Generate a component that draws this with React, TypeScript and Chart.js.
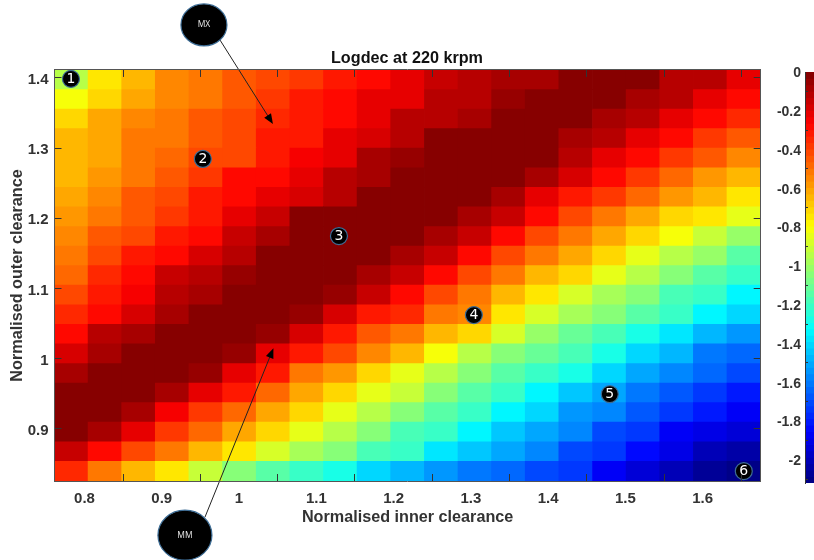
import React, { useEffect, useRef } from "react";
import { Chart, registerables } from "chart.js";

Chart.register(...registerables);

const TITLE = "Logdec at 220 krpm";
const X_LABEL = "Normalised inner clearance";
const Y_LABEL = "Normalised outer clearance";
const xTicks = [0.8, 0.9, 1, 1.1, 1.2, 1.3, 1.4, 1.5, 1.6];
const yTicks = [0.9, 1, 1.1, 1.2, 1.3, 1.4];
const cbTicks = [0, -0.2, -0.4, -0.6, -0.8, -1, -1.2, -1.4, -1.6, -1.8, -2];
const X_MIN = 0.7612;
const X_MAX = 1.6751;
const Y_MIN = 0.8254;
const Y_MAX = 1.4114;
const C_MIN = -2.12;
const C_MAX = 0;
const xCenters = [0.7830, 0.8265, 0.8700, 0.9135, 0.9570, 1.0006, 1.0441, 1.0876, 1.1311, 1.1746, 1.2181, 1.2617, 1.3052, 1.3487, 1.3922, 1.4357, 1.4793, 1.5228, 1.5663, 1.6098, 1.6533];
const yCenters = [1.3974, 1.3695, 1.3416, 1.3137, 1.2858, 1.2579, 1.2300, 1.2021, 1.1742, 1.1463, 1.1184, 1.0905, 1.0626, 1.0347, 1.0068, 0.9789, 0.9510, 0.9231, 0.8952, 0.8673, 0.8394];

const row01 = [-0.93, -0.74, -0.66, -0.56, -0.51, -0.46, -0.43, -0.38, -0.31, -0.27, -0.2, -0.16, -0.12, -0.07, -0.07, 0, 0, -0.03, -0.1, -0.13, -0.2];
const row02 = [-0.8, -0.7, -0.6, -0.55, -0.5, -0.45, -0.37, -0.32, -0.29, -0.2, -0.2, -0.11, -0.11, -0.04, 0, 0, -0.03, -0.07, -0.13, -0.2, -0.27];
const row03 = [-0.72, -0.62, -0.56, -0.52, -0.46, -0.43, -0.36, -0.3, -0.27, -0.22, -0.12, -0.13, -0.07, 0, 0, 0, -0.07, -0.13, -0.2, -0.27, -0.34];
const row04 = [-0.66, -0.6, -0.53, -0.5, -0.44, -0.41, -0.33, -0.3, -0.22, -0.19, -0.13, -0.03, 0, 0, 0, -0.07, -0.13, -0.2, -0.27, -0.37, -0.45];
const row05 = [-0.66, -0.6, -0.53, -0.47, -0.43, -0.4, -0.32, -0.24, -0.2, -0.09, -0.065, -0.03, 0, 0, -0.03, -0.12, -0.2, -0.27, -0.37, -0.45, -0.55];
const row06 = [-0.65, -0.57, -0.5, -0.44, -0.38, -0.29, -0.27, -0.2, -0.13, -0.07, 0, 0, 0, -0.03, -0.09, -0.18, -0.27, -0.37, -0.48, -0.58, -0.63];
const row07 = [-0.62, -0.55, -0.46, -0.4, -0.33, -0.27, -0.2, -0.18, -0.11, -0.03, 0, 0, 0, -0.09, -0.2, -0.3, -0.37, -0.47, -0.57, -0.66, -0.76];
const row08 = [-0.58, -0.51, -0.44, -0.37, -0.31, -0.22, -0.15, -0.03, -0.03, 0, 0, 0, -0.07, -0.16, -0.27, -0.4, -0.51, -0.61, -0.7, -0.76, -0.86];
const row09 = [-0.55, -0.46, -0.4, -0.33, -0.27, -0.14, -0.09, 0, 0, 0, 0, -0.07, -0.16, -0.27, -0.41, -0.51, -0.6, -0.7, -0.8, -0.9, -1];
const row10 = [-0.5, -0.42, -0.33, -0.27, -0.18, -0.11, -0.02, 0, 0, 0, -0.09, -0.16, -0.27, -0.41, -0.5, -0.6, -0.72, -0.84, -0.93, -1, -1.13];
const row11 = [-0.48, -0.36, -0.29, -0.16, -0.11, -0.04, 0, 0, 0, -0.07, -0.16, -0.27, -0.4, -0.52, -0.63, -0.72, -0.84, -0.93, -1.03, -1.13, -1.22];
const row12 = [-0.42, -0.33, -0.24, -0.13, -0.07, 0, 0, 0, -0.04, -0.15, -0.27, -0.41, -0.53, -0.63, -0.76, -0.87, -0.97, -1.06, -1.16, -1.22, -1.33];
const row13 = [-0.36, -0.27, -0.17, -0.07, 0, 0, 0, -0.04, -0.17, -0.3, -0.35, -0.53, -0.54, -0.73, -0.87, -0.97, -1.06, -1.13, -1.22, -1.33, -1.42];
const row14 = [-0.27, -0.13, -0.07, 0, 0, 0, -0.04, -0.19, -0.3, -0.44, -0.53, -0.64, -0.72, -0.87, -1, -1.1, -1.19, -1.28, -1.36, -1.48, -1.55];
const row15 = [-0.18, -0.07, 0, 0, 0, -0.04, -0.2, -0.32, -0.43, -0.56, -0.66, -0.8, -0.93, -1.03, -1.1, -1.19, -1.28, -1.4, -1.47, -1.62, -1.65];
const row16 = [-0.07, 0, 0, 0, -0.04, -0.2, -0.33, -0.5, -0.58, -0.7, -0.84, -0.93, -1.03, -1.13, -1.22, -1.28, -1.4, -1.52, -1.59, -1.65, -1.72];
const row17 = [0, 0, 0, -0.07, -0.2, -0.33, -0.47, -0.6, -0.7, -0.84, -0.92, -1.03, -1.13, -1.22, -1.33, -1.45, -1.52, -1.62, -1.66, -1.75, -1.82];
const row18 = [0, 0, -0.09, -0.24, -0.37, -0.49, -0.6, -0.72, -0.84, -0.93, -1.03, -1.13, -1.22, -1.33, -1.42, -1.53, -1.59, -1.66, -1.75, -1.82, -1.88];
const row19 = [0, -0.09, -0.22, -0.37, -0.48, -0.6, -0.72, -0.84, -0.93, -1.06, -1.19, -1.22, -1.33, -1.45, -1.52, -1.59, -1.69, -1.75, -1.86, -1.9, -1.93];
const row20 = [-0.15, -0.27, -0.43, -0.53, -0.65, -0.76, -0.88, -0.98, -1.06, -1.19, -1.22, -1.36, -1.44, -1.52, -1.59, -1.69, -1.75, -1.84, -1.9, -2, -2.03];
const row21 = [-0.35, -0.5, -0.63, -0.74, -0.9, -1.03, -1.13, -1.22, -1.28, -1.4, -1.48, -1.55, -1.62, -1.65, -1.72, -1.75, -1.86, -1.94, -2, -2.08, -2.1];
const rows = [row01, row02, row03, row04, row05, row06, row07, row08, row09, row10, row11, row12, row13, row14, row15, row16, row17, row18, row19, row20, row21];

const markerLabels = ["1", "2", "3", "4", "5", "6"];
const markerX = [0.7825, 0.9532, 1.1293, 1.3039, 1.4798, 1.6532];
const markerY = [1.3986, 1.2845, 1.1746, 1.0619, 0.9492, 0.8394];

const calloutLabels = ["MX", "MM"];
const calloutX = [0.9546, 0.93];
const calloutY = [1.4756, 0.7481];
const arrowFromX = [0.9753, 0.9559];
const arrowFromY = [1.4542, 0.7738];
const arrowToX = [1.0439, 1.0445];
const arrowToY = [1.3344, 1.0148];

const FONT = '"Liberation Sans", Arial, sans-serif';
const TEXT = "#333333";
const BORDER = "#555555";
const LEVELS = 64;

function jet(t: number) {
  const lvl = Math.min(LEVELS - 1, Math.floor(t * LEVELS));
  const u = (lvl + 0.5) / LEVELS;
  const ch = (c: number) => Math.round(255 * Math.max(0, Math.min(1, 1.5 - Math.abs(4 * u - c))));
  return `rgb(${ch(3)},${ch(2)},${ch(1)})`;
}
const colorOf = (v: number) => jet((v - C_MIN) / (C_MAX - C_MIN));

function App() {
  const mainRef = useRef<HTMLCanvasElement>(null);
  const barRef = useRef<HTMLCanvasElement>(null);

  useEffect(() => {
    const cellH = (yCenters[0] - yCenters[20]) / 20;
    const cells: any[] = [];
    const colors: string[] = [];
    rows.forEach((r, j) =>
      r.forEach((v, i) => {
        cells.push({ x: xCenters[i], y: [yCenters[j] - cellH / 2, yCenters[j] + cellH / 2] });
        colors.push(colorOf(v));
      })
    );

    const annotate = {
      id: "annotate",
      afterDatasetsDraw(chart: any) {
        const { ctx, scales } = chart;
        const sx = scales.x;
        const sy = scales.y;
        ctx.save();
        calloutLabels.forEach((label, i) => {
          const x0 = sx.getPixelForValue(arrowFromX[i]);
          const y0 = sy.getPixelForValue(arrowFromY[i]);
          const x1 = sx.getPixelForValue(arrowToX[i]);
          const y1 = sy.getPixelForValue(arrowToY[i]);
          const a = Math.atan2(y1 - y0, x1 - x0);
          ctx.strokeStyle = "#222";
          ctx.lineWidth = 1;
          ctx.beginPath();
          ctx.moveTo(x0, y0);
          ctx.lineTo(x1 - 6 * Math.cos(a), y1 - 6 * Math.sin(a));
          ctx.stroke();
          ctx.fillStyle = "#000";
          ctx.beginPath();
          ctx.moveTo(x1, y1);
          ctx.lineTo(x1 - 10 * Math.cos(a) + 4 * Math.sin(a), y1 - 10 * Math.sin(a) - 4 * Math.cos(a));
          ctx.lineTo(x1 - 10 * Math.cos(a) - 4 * Math.sin(a), y1 - 10 * Math.sin(a) + 4 * Math.cos(a));
          ctx.closePath();
          ctx.fill();

          const cx = sx.getPixelForValue(calloutX[i]);
          const cy = sy.getPixelForValue(calloutY[i]);
          ctx.beginPath();
          ctx.ellipse(cx, cy, i === 0 ? 23 : 27, i === 0 ? 21 : 25, 0, 0, Math.PI * 2);
          ctx.fillStyle = "#000";
          ctx.fill();
          ctx.lineWidth = 1.2;
          ctx.strokeStyle = "#3d6d96";
          ctx.stroke();
          ctx.fillStyle = "#e8e8e8";
          ctx.font = `8.5px "Open Sans", sans-serif`;
          ctx.textAlign = "center";
          ctx.textBaseline = "middle";
          ctx.fillText(label, cx, cy);
        });
        const meta = chart.getDatasetMeta(1);
        ctx.fillStyle = "#fff";
        ctx.font = `14px "DejaVu Sans", sans-serif`;
        ctx.textAlign = "center";
        ctx.textBaseline = "middle";
        meta.data.forEach((pt: any, i: number) => ctx.fillText(markerLabels[i], pt.x, pt.y + 0.5));
        ctx.restore();
      },
    };

    const tickFont = { family: FONT, size: 15, weight: "bold" as const };
    const titleFont = { family: FONT, size: 16.2, weight: "bold" as const, lineHeight: 1.2 };
    const gridOpt = { display: true, drawOnChartArea: false, drawTicks: true, tickLength: -7, color: "#333", z: 1 };
    const borderOpt = { display: true, color: BORDER, width: 1, z: 1 };

    const main = new Chart(mainRef.current as HTMLCanvasElement, {
      type: "bar",
      data: {
        datasets: [
          {
            data: cells,
            backgroundColor: colors,
            borderWidth: 0,
            barPercentage: 1,
            categoryPercentage: 1,
            grouped: false,
            inflateAmount: 0.4,
            order: 2,
          } as any,
          {
            type: "scatter",
            data: markerX.map((x, i) => ({ x, y: markerY[i] })),
            pointRadius: 8.5,
            pointBackgroundColor: "#000",
            pointBorderColor: "#3d6d96",
            pointBorderWidth: 1.2,
            order: 1,
            clip: false,
          } as any,
        ],
      },
      options: {
        animation: false,
        responsive: false,
        layout: { padding: 0 },
        plugins: {
          legend: { display: false },
          tooltip: { enabled: false },
          title: {
            display: true,
            text: TITLE,
            color: "#111",
            font: titleFont,
            padding: { top: 48.5, bottom: 2 },
          },
        },
        scales: {
          x: {
            type: "linear",
            position: "bottom",
            min: X_MIN,
            max: X_MAX,
            offset: false,
            grid: gridOpt,
            border: borderOpt,
            ticks: { font: tickFont, color: TEXT, padding: 16, maxRotation: 0, autoSkip: false, callback: (v: any) => String(v) },
            title: { display: true, text: X_LABEL, color: TEXT, font: titleFont, padding: { top: 0, bottom: 32.5 } },
            afterBuildTicks: (s: any) => { s.ticks = xTicks.map((value) => ({ value })); },
            afterFit: (s: any) => { s.height = 79; },
          },
          y: {
            type: "linear",
            position: "left",
            min: Y_MIN,
            max: Y_MAX,
            grid: gridOpt,
            border: borderOpt,
            ticks: { font: tickFont, color: TEXT, padding: 13, labelOffset: 2, autoSkip: false, callback: (v: any) => String(v) },
            title: { display: true, text: Y_LABEL, color: TEXT, font: titleFont, padding: { top: 8, bottom: 8 } },
            afterBuildTicks: (s: any) => { s.ticks = yTicks.map((value) => ({ value })); },
            afterFit: (s: any) => { s.width = 54.5; },
          },
          x2: {
            type: "linear",
            position: "top",
            min: X_MIN,
            max: X_MAX,
            offset: false,
            grid: gridOpt,
            border: borderOpt,
            ticks: { display: false },
            afterBuildTicks: (s: any) => { s.ticks = xTicks.map((value) => ({ value })); },
            afterFit: (s: any) => { s.height = 0; },
          },
          y2: {
            type: "linear",
            position: "right",
            min: Y_MIN,
            max: Y_MAX,
            grid: gridOpt,
            border: borderOpt,
            ticks: { display: false },
            afterBuildTicks: (s: any) => { s.ticks = yTicks.map((value) => ({ value })); },
            afterFit: (s: any) => { s.width = 53.3; },
          },
        },
      } as any,
      plugins: [annotate],
    });

    const step = (C_MAX - C_MIN) / LEVELS;
    const levelIdx = Array.from({ length: LEVELS }, (_, i) => i);
    const bar = new Chart(barRef.current as HTMLCanvasElement, {
      type: "bar",
      data: {
        datasets: [
          {
            data: levelIdx.map((i) => ({ y: C_MIN + (i + 0.5) * step, x: [0, 1] })),
            backgroundColor: levelIdx.map((i) => jet((i + 0.5) / LEVELS)),
            borderWidth: 0,
            barPercentage: 1,
            categoryPercentage: 1,
            grouped: false,
            inflateAmount: 0.4,
          } as any,
        ],
      },
      options: {
        animation: false,
        responsive: false,
        indexAxis: "y",
        layout: { padding: { top: 72, bottom: 77 } },
        plugins: { legend: { display: false }, tooltip: { enabled: false } },
        scales: {
          x: { type: "linear", display: false, min: 0, max: 1, offset: false },
          y: {
            type: "linear",
            position: "left",
            min: C_MIN,
            max: C_MAX,
            offset: false,
            grid: { display: true, drawOnChartArea: false, drawTicks: true, tickLength: -3, color: "#333", z: 1 },
            border: { display: true, color: "#333", width: 1, z: 1 },
            ticks: { font: { family: FONT, size: 14, weight: "bold" }, color: TEXT, padding: 7, labelOffset: 1.5, autoSkip: false, callback: (v: any) => String(v) },
            afterBuildTicks: (s: any) => { s.ticks = cbTicks.map((value) => ({ value })); },
            afterFit: (s: any) => { s.width = 35; },
          },
        },
      } as any,
    });

    return () => {
      main.destroy();
      bar.destroy();
    };
  }, []);

  return (
    <div style={{ position: "fixed", left: 0, top: 0, width: 814, height: 560, background: "#fff", overflow: "hidden" }}>
      <canvas ref={mainRef} width={814} height={560} style={{ position: "absolute", left: 0, top: 0, display: "block" }} />
      <canvas ref={barRef} width={60} height={560} style={{ position: "absolute", left: 770, top: 0, display: "block" }} />
    </div>
  );
}

export default App;
